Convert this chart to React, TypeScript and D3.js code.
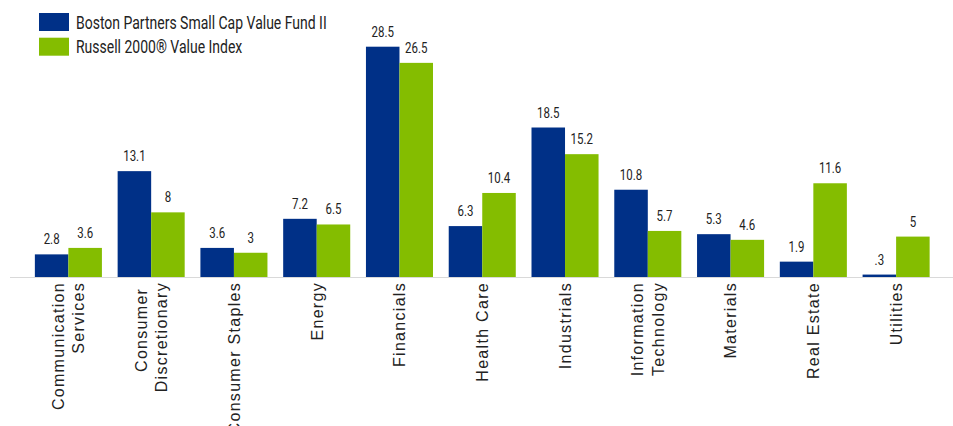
import React from "react";
import * as d3 from "d3";

const categories: string[][] = [
  ["Communication", "Services"],
  ["Consumer ", "Discretionary"],
  ["Consumer Staples"],
  ["Energy"],
  ["Financials"],
  ["Health Care"],
  ["Industrials"],
  ["Information", "Technology"],
  ["Materials"],
  ["Real Estate"],
  ["Utilities"],
];
const fundValues = [2.8, 13.1, 3.6, 7.2, 28.5, 6.3, 18.5, 10.8, 5.3, 1.9, 0.3];
const indexValues = [3.6, 8, 3, 6.5, 26.5, 10.4, 15.2, 5.7, 4.6, 11.6, 5];
const fundLabels = ["2.8", "13.1", "3.6", "7.2", "28.5", "6.3", "18.5", "10.8", "5.3", "1.9", ".3"];
const indexLabels = ["3.6", "8", "3", "6.5", "26.5", "10.4", "15.2", "5.7", "4.6", "11.6", "5"];
const seriesNames = ["Boston Partners Small Cap Value Fund II", "Russell 2000® Value Index"];
const colors = ["#003087", "#84bd00"];

const W = 953;
const H = 426;
const baseY = 277;
const condensed = "Roboto, 'Liberation Sans', sans-serif";

export default function App() {
  const keys = categories.map((_, i) => String(i));
  const x0 = d3.scaleBand<string>().domain(keys).range([27, 937.5]).paddingInner(0.19).paddingOuter(0.095);
  const x1 = d3.scaleBand<string>().domain(["0", "1"]).range([0, x0.bandwidth()]);
  const y = d3.scaleLinear().domain([0, 28.5]).range([baseY, 46.7]);
  const series = [fundValues, indexValues];
  const labels = [fundLabels, indexLabels];

  return (
    <svg width={W} height={H} style={{ position: "absolute", left: 0, top: 0, background: "#fff" }}>
      {/* legend */}
      {seriesNames.map((n, i) => (
        <g key={n} transform={`translate(39, ${13 + i * 24.7})`}>
          <rect width={30} height={18} fill={colors[i]} />
          <text
            transform="translate(37, 15.5) scale(0.8, 1)"
            fontFamily={condensed}
            fontSize={17.5}
            fill="#222"
          >
            {n}
          </text>
        </g>
      ))}
      {/* axis line */}
      <line x1={10} x2={W} y1={baseY + 0.5} y2={baseY + 0.5} stroke="#d9d9d9" strokeWidth={1.2} />
      {/* bars */}
      {keys.map((k, ci) => (
        <g key={k} transform={`translate(${x0(k)},0)`}>
          {series.map((s, si) => {
            const v = s[ci];
            const bx = x1(String(si))!;
            const bw = x1.bandwidth();
            return (
              <g key={si}>
                <rect x={bx} y={y(v)} width={bw} height={baseY - y(v)} fill={colors[si]} />
                <text
                  transform={`translate(${bx + bw / 2}, ${y(v) - 10}) scale(0.82, 1)`}
                  textAnchor="middle"
                  fontFamily={condensed}
                  fontSize={14}
                  fill="#222"
                >
                  {labels[si][ci]}
                </text>
              </g>
            );
          })}
        </g>
      ))}
      {/* category labels */}
      {categories.map((lines, ci) => {
        const cx = x0(String(ci))! + x0.bandwidth() / 2;
        const n = lines.length;
        return (
          <g key={ci} transform={`translate(${cx}, 282) rotate(-90)`}>
            {lines.map((l, li) => {
              const offset = (li - (n - 1) / 2) * 20.5 + 5.8;
              return (
                <text
                  key={li}
                  x={0}
                  y={offset}
                  textAnchor="end"
                  fontFamily="'Liberation Sans', Arial, sans-serif"
                  fontSize={16}
                  letterSpacing={1.3}
                  fill="#222"
                  style={{ whiteSpace: "pre" }}
                >
                  {l}
                </text>
              );
            })}
          </g>
        );
      })}
    </svg>
  );
}
